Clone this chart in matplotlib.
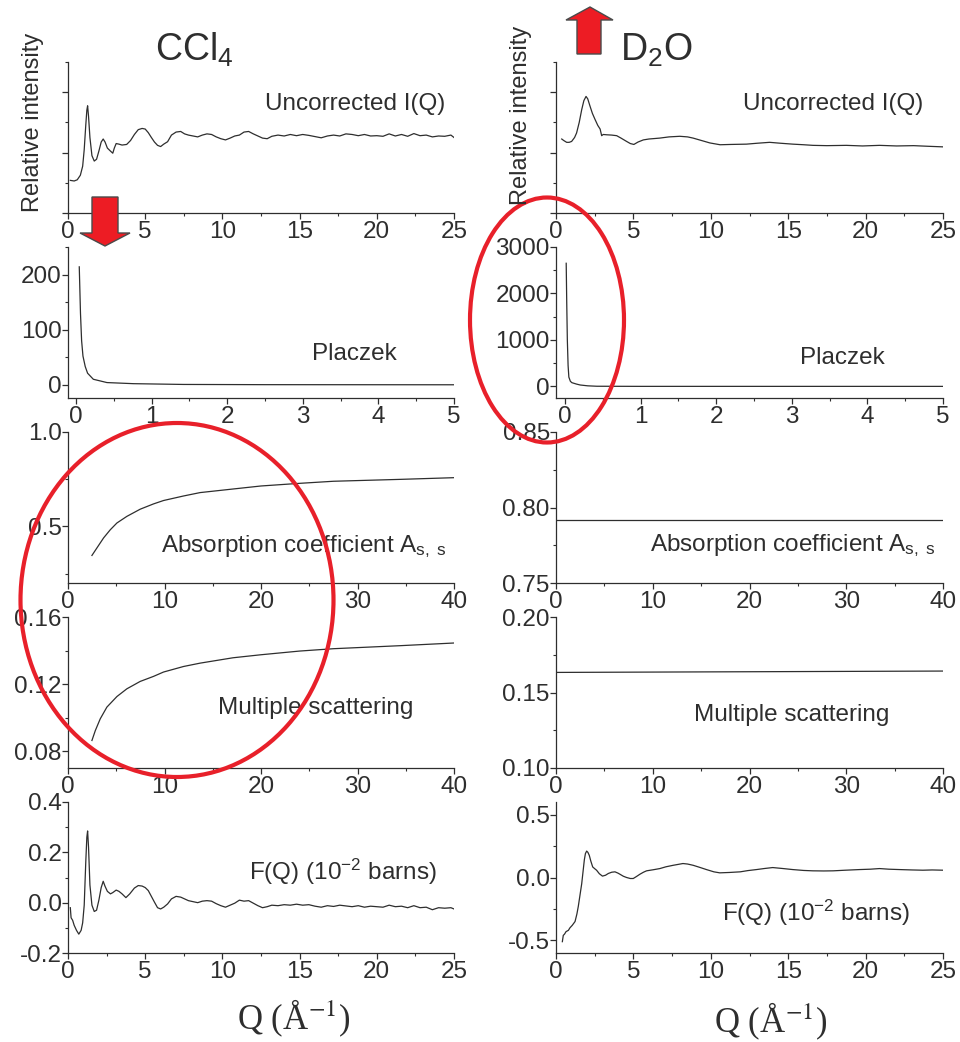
import numpy as np
import matplotlib.pyplot as plt
from matplotlib.patches import Ellipse, Polygon
from matplotlib.ticker import MultipleLocator, FormatStrFormatter, NullFormatter

plt.rcParams['font.family'] = ['Liberation Sans', 'DejaVu Sans']
plt.rcParams['mathtext.fontset'] = 'custom'
plt.rcParams['mathtext.rm'] = 'Liberation Sans'
plt.rcParams['mathtext.it'] = 'Liberation Sans:italic'
plt.rcParams['axes.unicode_minus'] = False

# ---- CCl4 column ----
q_iq_ccl4 = [0.15, 0.4, 0.6, 0.8, 0.95, 1.05, 1.15, 1.22, 1.27, 1.33, 1.42, 1.55, 1.7, 1.85,
             2.0, 2.15, 2.28, 2.4, 2.55, 2.75, 2.9, 3.0, 3.12, 3.3, 3.5, 3.8, 4.05, 4.3, 4.55,
             4.8, 5.0, 5.2, 5.4, 5.6, 5.8, 6.0, 6.2, 6.45, 6.7, 7.0, 7.3, 7.55, 7.8, 8.1, 8.4,
             8.7, 9.0, 9.3, 9.6, 9.9, 10.2, 10.5, 10.8, 11.1, 11.4, 11.7, 12.0, 12.3, 12.6,
             12.9, 13.2, 13.6, 14.0, 14.4, 14.8, 15.2, 15.6, 16.0, 16.4, 16.8, 17.2, 17.6,
             18.0, 18.4, 18.8, 19.2, 19.6, 20.0, 20.4, 20.8, 21.2, 21.6, 22.0, 22.4, 22.8,
             23.2, 23.6, 24.0, 24.4, 24.8, 25.0]
iq_ccl4 = [1.08, 1.06, 1.10, 1.25, 1.55, 2.1, 2.9, 3.4, 3.55, 3.2, 2.5, 1.9, 1.72, 1.78,
           2.05, 2.35, 2.45, 2.35, 2.15, 2.05, 1.98, 2.15, 2.30, 2.28, 2.25, 2.27, 2.4, 2.6, 2.76,
           2.80, 2.78, 2.66, 2.5, 2.35, 2.24, 2.2, 2.28, 2.36, 2.58, 2.68, 2.70, 2.62, 2.58, 2.55, 2.52,
           2.58, 2.62, 2.60, 2.52, 2.46, 2.42, 2.48, 2.55, 2.58, 2.68, 2.70, 2.62, 2.55, 2.48,
           2.46, 2.54, 2.58, 2.55, 2.60, 2.56, 2.60, 2.57, 2.53, 2.49, 2.55, 2.58, 2.55,
           2.62, 2.60, 2.56, 2.60, 2.55, 2.56, 2.54, 2.62, 2.55, 2.60, 2.54, 2.63, 2.56,
           2.58, 2.52, 2.55, 2.54, 2.58, 2.50]

q_plz_ccl4 = [0.044, 0.06, 0.075, 0.093, 0.123, 0.154, 0.23, 0.41, 0.76, 1.42, 2.5, 5.0]
plz_ccl4 = [214, 130, 80, 52, 33, 21, 10, 4, 2, 0.6, 0.2, 0.0]

q_abs_ccl4 = [2.48, 3.0, 3.69, 4.38, 5.07, 6.1, 7.48, 8.86, 9.9, 11.97, 13.69, 17.1, 20.0,
              24.0, 27.5, 34.4, 40.0]
abs_ccl4 = [0.346, 0.386, 0.439, 0.482, 0.518, 0.553, 0.591, 0.619, 0.637, 0.661, 0.679,
            0.698, 0.714, 0.728, 0.739, 0.749, 0.758]

q_ms_ccl4 = [2.48, 2.83, 3.34, 4.03, 5.07, 6.1, 7.48, 8.86, 9.9, 11.97, 13.69, 17.1, 20.0,
             24.0, 27.5, 34.4, 40.0]
ms_ccl4 = [0.0864, 0.0923, 0.0993, 0.1063, 0.1126, 0.1172, 0.1216, 0.1246, 0.1272, 0.1305,
           0.1325, 0.1357, 0.1375, 0.1397, 0.1411, 0.1429, 0.1445]

q_fq_ccl4 = [0.15, 0.2, 0.3, 0.4, 0.55, 0.7, 0.85, 0.95, 1.05, 1.15, 1.22, 1.27, 1.33, 1.42,
             1.55, 1.7, 1.85, 2.0, 2.15, 2.28, 2.4, 2.55, 2.75, 2.9, 3.12, 3.3, 3.5, 3.75, 4.0,
             4.3, 4.55, 4.8, 5.0, 5.2, 5.4, 5.6, 5.8, 6.0, 6.2, 6.45, 6.7, 7.0, 7.3, 7.55, 7.8,
             8.1, 8.4, 8.7, 9.0, 9.3, 9.6, 9.9, 10.2, 10.5, 10.8, 11.1, 11.4, 11.7, 12.0, 12.3,
             12.6, 12.9, 13.2, 13.6, 14.0, 14.4, 14.8, 15.2, 15.6, 16.0, 16.4, 16.8, 17.2,
             17.6, 18.0, 18.4, 18.8, 19.2, 19.6, 20.0, 20.4, 20.8, 21.2, 21.6, 22.0, 22.4,
             22.8, 23.2, 23.6, 24.0, 24.4, 24.8, 25.0]
fq_ccl4 = [-0.02, -0.06, -0.07, -0.09, -0.11, -0.125, -0.11, -0.08, -0.01, 0.16, 0.26, 0.285,
           0.22, 0.07, -0.01, -0.035, -0.03, 0.01, 0.06, 0.085, 0.065, 0.045, 0.035, 0.04,
           0.05, 0.045, 0.035, 0.02, 0.035, 0.058, 0.068, 0.066, 0.06, 0.048, 0.025, 0.002,
           -0.02, -0.025, -0.018, -0.005, 0.015, 0.025, 0.022, 0.015, 0.008, 0.004, 0.0, 0.006,
           0.008, 0.006, -0.004, -0.012, -0.018, -0.01, -0.002, 0.01, 0.006, 0.008, -0.002,
           -0.012, -0.02, -0.016, -0.01, -0.012, -0.008, -0.01, -0.006, -0.01, -0.008, -0.014,
           -0.018, -0.012, -0.015, -0.01, -0.013, -0.016, -0.012, -0.018, -0.014, -0.016,
           -0.018, -0.01, -0.016, -0.014, -0.02, -0.012, -0.02, -0.018, -0.028, -0.02, -0.022,
           -0.02, -0.025]

# ---- D2O column ----
q_iq_d2o = [0.37, 0.5, 0.69, 0.85, 1.01, 1.2, 1.33, 1.5, 1.66, 1.8, 1.94, 2.05, 2.19, 2.35,
            2.52, 2.7, 2.85, 2.95, 3.05, 3.27, 3.6, 3.92, 4.2, 4.56, 4.8, 5.03, 5.3, 5.64, 6.0,
            6.7, 7.3, 8.0, 8.5, 8.86, 9.4, 9.94, 10.6, 11.3, 12.3, 13.0, 13.8, 14.5, 15.3,
            16.0, 16.6, 17.5, 18.76, 19.8, 20.9, 22.0, 23.1, 24.0, 25.0]
iq_d2o = [2.45, 2.40, 2.34, 2.34, 2.37, 2.5, 2.65, 3.0, 3.42, 3.72, 3.86, 3.78, 3.55, 3.3,
          3.1, 2.9, 2.78, 2.56, 2.6, 2.59, 2.58, 2.56, 2.48, 2.37, 2.3, 2.27, 2.35, 2.42, 2.45,
          2.48, 2.52, 2.54, 2.52, 2.48, 2.4, 2.32, 2.26, 2.27, 2.28, 2.31, 2.34, 2.31, 2.28,
          2.26, 2.24, 2.23, 2.24, 2.22, 2.24, 2.22, 2.23, 2.21, 2.19]

q_plz_d2o = [0.015, 0.022, 0.03, 0.04, 0.05, 0.07, 0.09, 0.15, 0.2, 0.3, 0.42, 1.0, 5.0]
plz_d2o = [2650, 1800, 1000, 450, 200, 110, 80, 50, 30, 12, 3, 0.5, 0.0]

q_flat_d2o = [0.0, 40.0]
abs_d2o = [0.792, 0.792]
ms_d2o = [0.1633, 0.1642]

q_fq_d2o = [0.41, 0.47, 0.55, 0.65, 0.8, 0.9, 1.05, 1.23, 1.35, 1.44, 1.55, 1.66, 1.75, 1.83,
            1.9, 1.98, 2.06, 2.15, 2.25, 2.37, 2.5, 2.62, 2.8, 3.0, 3.2, 3.38, 3.6, 3.81, 4.0,
            4.13, 4.35, 4.56, 4.8, 4.99, 5.2, 5.42, 5.65, 5.85, 6.3, 6.71, 7.1, 7.57, 8.2, 8.5,
            8.86, 9.3, 9.72, 10.2, 10.58, 11.2, 11.9, 12.4, 12.95, 13.5, 14.0, 14.6, 15.3,
            16.0, 16.6, 17.3, 17.9, 18.7, 19.6, 20.3, 20.9, 21.5, 22.2, 23.0, 23.7, 24.3, 25.0]
fq_d2o = [-0.51, -0.46, -0.45, -0.43, -0.42, -0.40, -0.38, -0.35, -0.29, -0.23, -0.14, -0.05,
          0.05, 0.14, 0.19, 0.21, 0.2, 0.176, 0.13, 0.084, 0.07, 0.058, 0.03, 0.011, 0.018,
          0.032, 0.042, 0.045, 0.035, 0.026, 0.01, 0.0, -0.008, -0.008, 0.008, 0.026, 0.042,
          0.053, 0.062, 0.071, 0.085, 0.097, 0.111, 0.107, 0.097, 0.08, 0.063, 0.045, 0.037,
          0.04, 0.045, 0.055, 0.063, 0.072, 0.079, 0.072, 0.063, 0.056, 0.053, 0.052, 0.053,
          0.058, 0.063, 0.066, 0.071, 0.066, 0.063, 0.06, 0.058, 0.06, 0.058]

W, H = 960, 1042
fig = plt.figure(figsize=(9.6, 10.42), dpi=100)
ink = '#2e2e2e'
row_top = [62, 247, 432, 617, 802]
row_h = 151
col_x = [(68, 454), (556, 943)]


def make_axes(row, col):
    x0, x1 = col_x[col]
    y0 = row_top[row]
    return fig.add_axes([x0 / W, 1 - (y0 + row_h) / H, (x1 - x0) / W, row_h / H])


def style(ax, xlim, ylim, xmaj, xmin, ymaj, ymin, yfmt=None, xfmt='%d'):
    ax.set_xlim(*xlim)
    ax.set_ylim(*ylim)
    for s in ['top', 'right']:
        ax.spines[s].set_visible(False)
    for s in ['left', 'bottom']:
        ax.spines[s].set_color(ink)
        ax.spines[s].set_linewidth(0.9)
    ax.xaxis.set_major_locator(MultipleLocator(xmaj))
    ax.xaxis.set_minor_locator(MultipleLocator(xmin))
    ax.yaxis.set_major_locator(MultipleLocator(ymaj))
    ax.yaxis.set_minor_locator(MultipleLocator(ymin))
    ax.xaxis.set_major_formatter(FormatStrFormatter(xfmt))
    if yfmt is None:
        ax.yaxis.set_major_formatter(NullFormatter())
    else:
        ax.yaxis.set_major_formatter(FormatStrFormatter(yfmt))
    ax.tick_params(which='major', direction='out', length=4, width=0.9, color=ink,
                   labelsize=17.5, labelcolor=ink)
    ax.tick_params(axis='x', which='major', pad=1.5)
    ax.tick_params(axis='y', which='major', pad=0.5)
    ax.tick_params(which='minor', direction='out', length=2.5, width=0.8, color=ink)
    ax.patch.set_alpha(0)


def label(ax, x, y, s, ha='right'):
    ax.text(x, y, s, transform=ax.transAxes, ha=ha, va='center', fontsize=17.5, color=ink)


lw = 0.9

# row 1: uncorrected I(Q)
ax = make_axes(0, 0)
ax.plot(q_iq_ccl4, iq_ccl4, color=ink, lw=lw)
style(ax, (0, 25), (0, 5), 5, 2.5, 2, 1)
label(ax, 0.977, 0.72, 'Uncorrected I(Q)')
ax = make_axes(0, 1)
ax.plot(q_iq_d2o, iq_d2o, color=ink, lw=lw)
style(ax, (0, 25), (0, 5), 5, 2.5, 2, 1)
label(ax, 0.948, 0.72, 'Uncorrected I(Q)')

# row 2: Placzek
ax = make_axes(1, 0)
ax.plot(q_plz_ccl4, plz_ccl4, color=ink, lw=lw)
style(ax, (-0.105, 5), (-24, 250), 1, 0.5, 100, 50, '%d')
label(ax, 0.852, 0.29, 'Placzek')
ax = make_axes(1, 1)
ax.plot(q_plz_d2o, plz_d2o, color=ink, lw=lw)
style(ax, (-0.12, 5), (-250, 3000), 1, 0.5, 1000, 500, '%d')
label(ax, 0.85, 0.265, 'Placzek')

# row 3: absorption
ax = make_axes(2, 0)
ax.plot(q_abs_ccl4, abs_ccl4, color=ink, lw=lw)
style(ax, (0, 40), (0.2, 1.0), 10, 5, 0.5, 0.25, '%.1f')
label(ax, 0.98, 0.24, r'Absorption coefficient A$_{\mathrm{s,\ s}}$')
ax = make_axes(2, 1)
ax.plot(q_flat_d2o, abs_d2o, color=ink, lw=lw)
style(ax, (0, 40), (0.75, 0.85), 10, 5, 0.05, 0.025, '%.2f')
label(ax, 0.98, 0.25, r'Absorption coefficient A$_{\mathrm{s,\ s}}$')

# row 4: multiple scattering
ax = make_axes(3, 0)
ax.plot(q_ms_ccl4, ms_ccl4, color=ink, lw=lw)
style(ax, (0, 40), (0.07, 0.16), 10, 5, 0.04, 0.02, '%.2f')
label(ax, 0.642, 0.40, 'Multiple scattering', ha='center')
ax = make_axes(3, 1)
ax.plot(q_flat_d2o, ms_d2o, color=ink, lw=lw)
style(ax, (0, 40), (0.10, 0.20), 10, 5, 0.05, 0.025, '%.2f')
label(ax, 0.61, 0.35, 'Multiple scattering', ha='center')

# row 5: F(Q)
ax = make_axes(4, 0)
ax.plot(q_fq_ccl4, fq_ccl4, color=ink, lw=lw)
style(ax, (0, 25), (-0.2, 0.4), 5, 2.5, 0.2, 0.1, '%.1f')
label(ax, 0.956, 0.536, r'F(Q) (10$^{-2}$ barns)')
ax = make_axes(4, 1)
ax.plot(q_fq_d2o, fq_d2o, color=ink, lw=lw)
style(ax, (0, 25), (-0.6, 0.6), 5, 2.5, 0.5, 0.25, '%.1f')
label(ax, 0.915, 0.265, r'F(Q) (10$^{-2}$ barns)')

# overlay in pixel coordinates for titles, labels and red marks
ov = fig.add_axes([0, 0, 1, 1], zorder=10)
ov.set_xlim(0, W)
ov.set_ylim(H, 0)
ov.axis('off')
ov.patch.set_alpha(0)

ov.text(155, 61, r'CCl$_4$', fontsize=27, color=ink, va='baseline', ha='left')
ov.text(620, 61, r'D$_2$O', fontsize=27, color=ink, va='baseline', ha='left')
ov.text(33, 122, 'Relative intensity', rotation=90, fontsize=17, color=ink, ha='center', va='center')
ov.text(521, 115, 'Relative intensity', rotation=90, fontsize=17, color=ink, ha='center', va='center')
for xc, yc in [(294, 1018), (771, 1021)]:
    ov.text(xc, yc, r'Q (Å$^{-1}$)', fontsize=25, color=ink, ha='center', va='center',
            family='Liberation Serif', math_fontfamily='stix')

red = '#e8202a'
ov.add_patch(Ellipse((177, 600), 313, 354, fill=False, edgecolor=red, lw=3))
ov.add_patch(Ellipse((547, 320), 154, 245, fill=False, edgecolor=red, lw=3))
ov.add_patch(Polygon([(92, 197), (118, 197), (118, 233), (130, 233), (105, 246), (80, 233), (92, 233)],
                     closed=True, facecolor='#ed1c24', edgecolor='#4a4a4a', lw=1))
ov.add_patch(Polygon([(577, 54), (601, 54), (601, 20), (613, 20), (590, 7), (566, 20), (577, 20)],
                     closed=True, facecolor='#ed1c24', edgecolor='#4a4a4a', lw=1))

fig.savefig('out.png', dpi=100)
